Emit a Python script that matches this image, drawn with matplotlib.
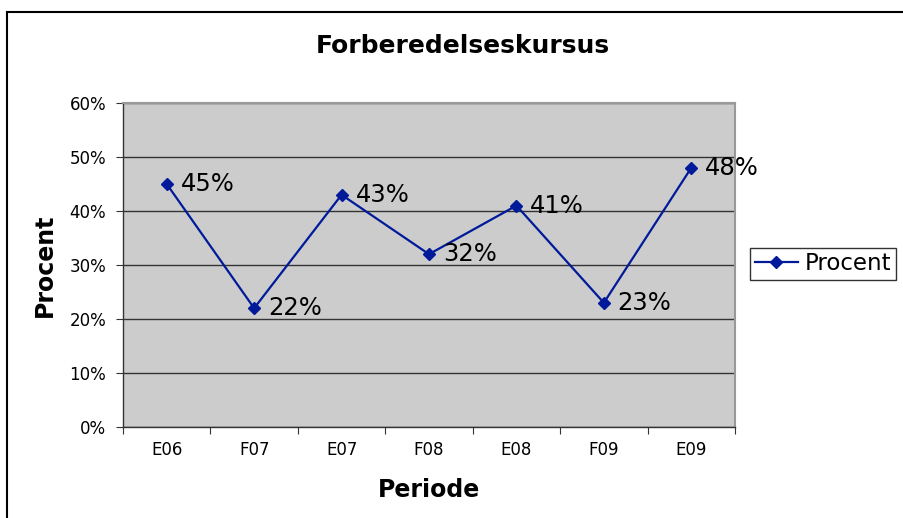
import matplotlib
matplotlib.use("Agg")
import matplotlib.pyplot as plt
from matplotlib.patches import Rectangle
from matplotlib.ticker import FuncFormatter

periods = ["E06", "F07", "E07", "F08", "E08", "F09", "E09"]
procent = [45, 22, 43, 32, 41, 23, 48]
y_ticks = [0, 10, 20, 30, 40, 50, 60]

W, H = 904, 518
fig = plt.figure(figsize=(W / 100, H / 100), dpi=100)
fig.patch.set_facecolor("white")

# outer chart frame (right and bottom edges run off the picture)
fig.patches.append(Rectangle((7 / W, -0.01), 1.0, (518 - 12) / H + 0.01,
                             transform=fig.transFigure, fill=False,
                             edgecolor="black", linewidth=1.5))

ax = fig.add_axes([123 / W, 1 - 427 / H, (735 - 123) / W, (427 - 103) / H])
ax.set_facecolor("#cccccc")

x = list(range(len(periods)))
ax.plot(x, procent, color="#001a99", linewidth=1.6, marker="D", markersize=6,
        label="Procent")
for xi, v in zip(x, procent):
    ax.annotate("%d%%" % v, (xi, v), xytext=(10, 0), textcoords="offset points",
                ha="left", va="center", fontsize=17.5)

ax.set_xlim(-0.5, len(periods) - 0.5)
ax.set_ylim(0, 60)
ax.set_yticks(y_ticks)
ax.yaxis.set_major_formatter(FuncFormatter(lambda v, p: "%d%%" % v))
ax.set_xticks([i - 0.5 for i in range(len(periods) + 1)], minor=False)
ax.set_xticklabels([])
ax.set_xticks(x, minor=True)
ax.set_xticklabels(periods, minor=True, fontsize=12)
ax.tick_params(axis="x", which="minor", length=0, pad=10)
ax.tick_params(axis="x", which="major", length=5, direction="out", color="#333333")
ax.tick_params(axis="y", length=5, direction="out", labelsize=12, pad=7, color="#333333")
ax.grid(axis="y", color="#333333", linewidth=1)
ax.set_axisbelow(True)

for s in ["top", "right"]:
    ax.spines[s].set_color("#999999")
    ax.spines[s].set_linewidth(1.5)
for s in ["left", "bottom"]:
    ax.spines[s].set_color("#333333")
    ax.spines[s].set_linewidth(1)

ax.set_xlabel("Periode", fontsize=17, fontweight="bold", labelpad=14)
ax.set_ylabel("Procent", fontsize=17, fontweight="bold", labelpad=9)

fig.text(463 / W, 1 - 46 / H, "Forberedelseskursus", ha="center", va="center",
         fontsize=18, fontweight="bold")

leg = ax.legend(loc="center left", bbox_to_anchor=(750 / W, 1 - 264 / H),
                bbox_transform=fig.transFigure, fontsize=16.5, frameon=True,
                fancybox=False, borderpad=0.2, borderaxespad=0,
                handlelength=1.9, handletextpad=0.3)
leg.get_frame().set_edgecolor("black")
leg.get_frame().set_linewidth(1)

fig.savefig("out.png", dpi=100)
